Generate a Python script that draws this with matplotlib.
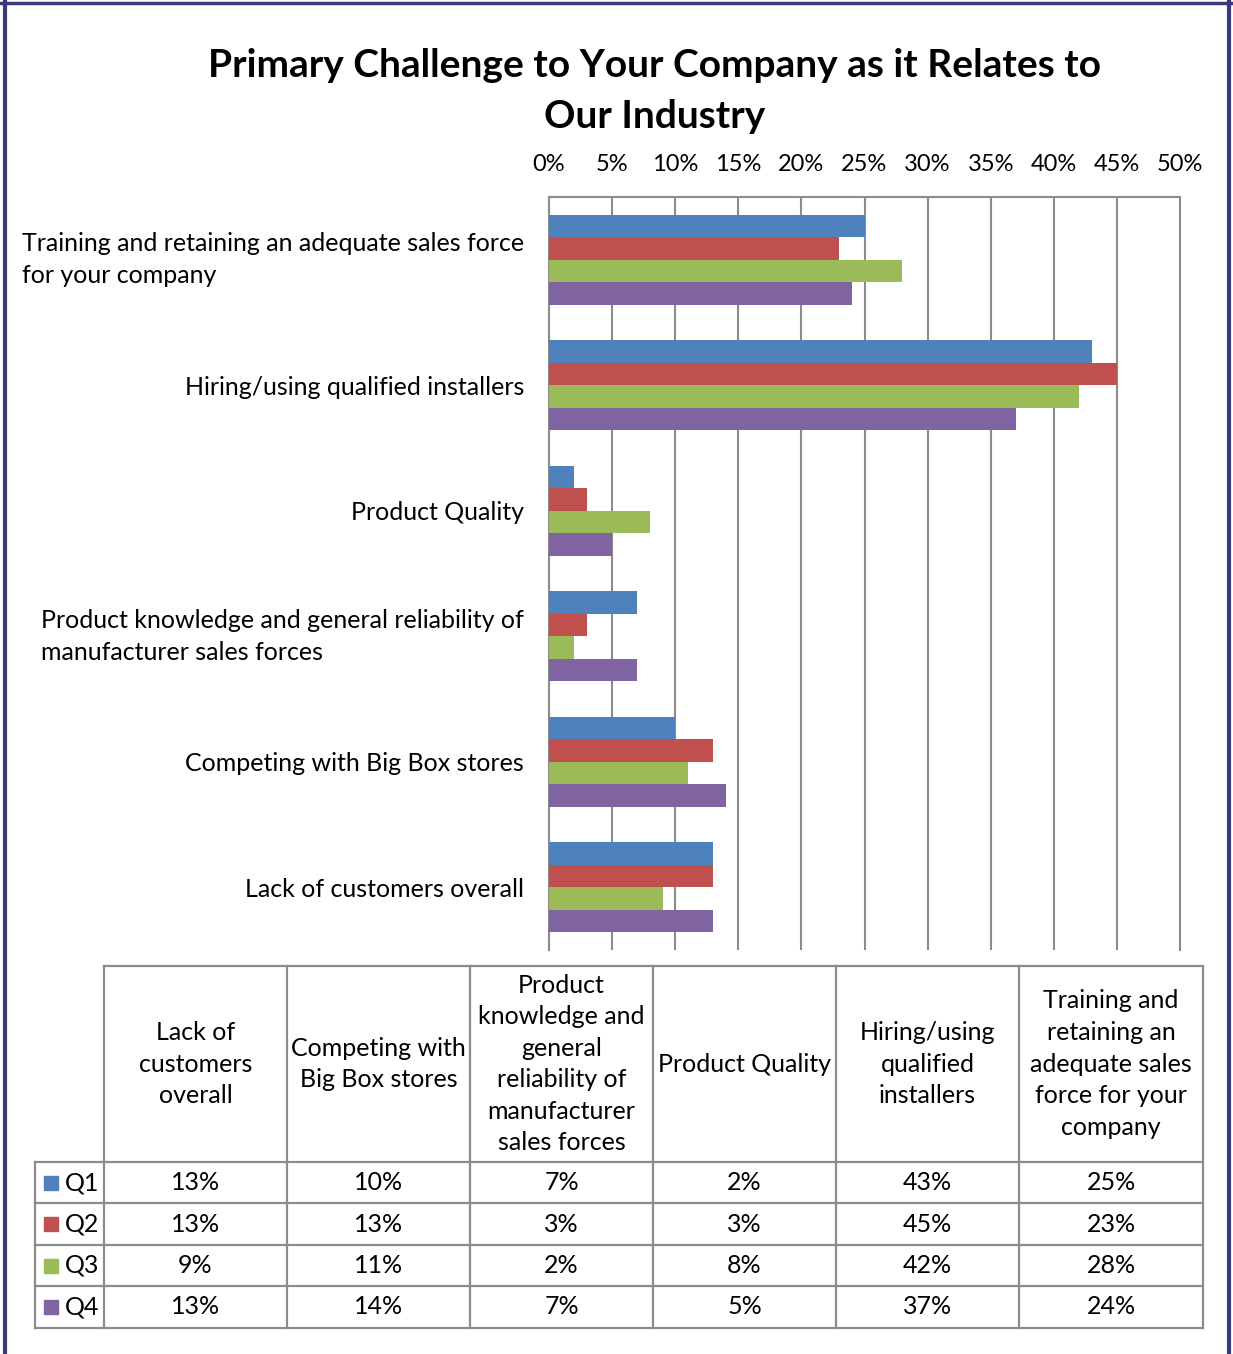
import matplotlib
matplotlib.use("Agg")
import matplotlib.pyplot as plt
from matplotlib.patches import Rectangle

plt.rcParams["font.family"] = ["Lato", "DejaVu Sans"]
plt.rcParams["font.size"] = 18

# data
categories = ["Lack of customers overall",
              "Competing with Big Box stores",
              "Product knowledge and general reliability of\nmanufacturer sales forces",
              "Product Quality",
              "Hiring/using qualified installers",
              "Training and retaining an adequate sales force\nfor your company"]
table_headers = ["Lack of\ncustomers\noverall",
                 "Competing with\nBig Box stores",
                 "Product\nknowledge and\ngeneral\nreliability of\nmanufacturer\nsales forces",
                 "Product Quality",
                 "Hiring/using\nqualified\ninstallers",
                 "Training and\nretaining an\nadequate sales\nforce for your\ncompany"]
series = ["Q1", "Q2", "Q3", "Q4"]
q1 = [13, 10, 7, 2, 43, 25]
q2 = [13, 13, 3, 3, 45, 23]
q3 = [9, 11, 2, 8, 42, 28]
q4 = [13, 14, 7, 5, 37, 24]
values = [q1, q2, q3, q4]
colors = ["#4F81BD", "#C0504D", "#9BBB59", "#8064A2"]
xticks = [0, 5, 10, 15, 20, 25, 30, 35, 40, 45, 50]

W, H = 1233, 1354
grid_c = "#8c8c8c"
fig = plt.figure(figsize=(W / 100, H / 100), dpi=100)

# bar chart
ax = fig.add_axes([549 / W, 1 - 950 / H, (1180 - 549) / W, (950 - 197) / H])
bh = 0.18
offs = [0.27, 0.09, -0.09, -0.27]
for vals, off, c, name in zip(values, offs, colors, series):
    ax.barh([i + off for i in range(len(categories))], vals, height=bh,
            color=c, label=name, zorder=3)
ax.set_xlim(0, 50)
ax.set_ylim(-0.5, len(categories) - 0.5)
ax.set_xticks(xticks)
ax.set_xticklabels([f"{t}%" for t in xticks], fontsize=17)
ax.xaxis.tick_top()
ax.set_yticks(range(len(categories)))
ax.set_yticklabels(categories, ha="right", multialignment="left",
                   linespacing=1.45)
for lab in ax.get_yticklabels():
    if "\n" in lab.get_text():
        lab.set_va("center")
ax.tick_params(axis="x", length=0, pad=16)
ax.tick_params(axis="y", length=0, pad=18)
ax.grid(axis="x", color=grid_c, linewidth=1.5, zorder=0)
for s in ["top", "left", "right"]:
    ax.spines[s].set_color(grid_c)
    ax.spines[s].set_linewidth(1.5)
ax.spines["bottom"].set_visible(False)

# overlay for title, table, border (pixel coords)
ov = fig.add_axes([0, 0, 1, 1], zorder=-1)
ov.set_xlim(0, W)
ov.set_ylim(H, 0)
ov.axis("off")

ov.text(655, 91, "Primary Challenge to Your Company as it Relates to\nOur Industry",
        ha="center", va="center", fontsize=28, fontweight="bold", linespacing=1.55)

# table
col_x = [35, 104, 287, 470, 653, 836, 1019, 1203]
row_y = [966, 1162, 1203, 1245, 1286, 1328]
lw = 1.6
ov.plot([col_x[1], col_x[-1]], [row_y[0], row_y[0]], color=grid_c, lw=lw)
for y in row_y[1:]:
    ov.plot([col_x[0], col_x[-1]], [y, y], color=grid_c, lw=lw)
ov.plot([col_x[0], col_x[0]], [row_y[1], row_y[-1]], color=grid_c, lw=lw)
for x in col_x[1:]:
    ov.plot([x, x], [row_y[0], row_y[-1]], color=grid_c, lw=lw)

for j, hdr in enumerate(table_headers):
    cx = (col_x[j + 1] + col_x[j + 2]) / 2
    ov.text(cx, (row_y[0] + row_y[1]) / 2, hdr, ha="center", va="center",
            linespacing=1.45)
for i, (vals, c, name) in enumerate(zip(values, colors, series)):
    cy = (row_y[i + 1] + row_y[i + 2]) / 2
    ov.add_patch(Rectangle((44, cy - 7), 14, 14, color=c))
    ov.text(65, cy, name, ha="left", va="center")
    for j, v in enumerate(vals):
        cx = (col_x[j + 1] + col_x[j + 2]) / 2
        ov.text(cx, cy, f"{v}%", ha="center", va="center")

# border
navy = "#3a3a78"
ov.plot([5, 5], [0, H], color=navy, lw=3)
ov.plot([0, W], [3, 3], color=navy, lw=2.5)
ov.plot([1229, 1229], [0, H], color=navy, lw=3)

fig.savefig("out.png", dpi=100)
